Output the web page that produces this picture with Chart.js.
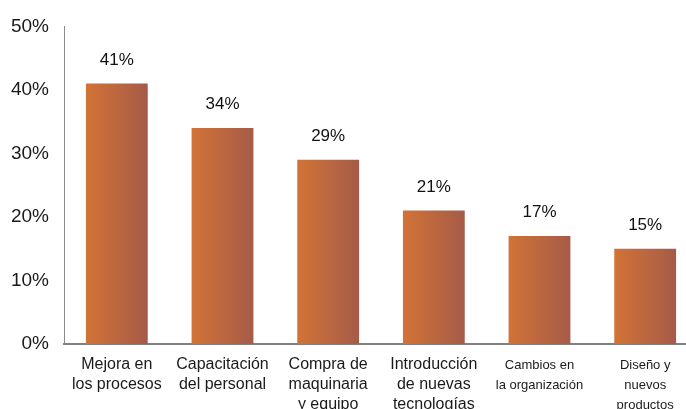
<!DOCTYPE html>
<html>
<head>
<meta charset="utf-8">
<script src="https://cdn.jsdelivr.net/npm/chart.js@4"></script>
<style>
  html, body { margin: 0; padding: 0; background: #fff; overflow: hidden; }
  #wrap { width: 702px; height: 409px; }
</style>
</head>
<body>
<div id="wrap"><canvas id="chart" width="702" height="409"></canvas></div>
<script>
// Chart data
const categories = [
  ["Mejora en", "los procesos"],
  ["Capacitación", "del personal"],
  ["Compra de", "maquinaria", "y equipo"],
  ["Introducción", "de nuevas", "tecnologías"],
  ["Cambios en", "la organización"],
  ["Diseño y", "nuevos", "productos"]
];
const values = [41, 34, 29, 21, 17, 15];
const yTicks = [0, 10, 20, 30, 40, 50];

const BAR_PCT = 0.585;

const labelFont = { family: '"Liberation Sans", Arial, sans-serif', size: 16, lineHeight: 1.25 };
const smallFont = { family: '"Liberation Sans", Arial, sans-serif', size: 13, lineHeight: 1.54 };

function barGradient(ctx) {
  const chart = ctx.chart;
  const xs = chart.scales.x;
  if (!chart.chartArea || !xs) return '#c06a3c';
  const cx = xs.getPixelForValue(ctx.dataIndex);
  const half = xs.width / categories.length * BAR_PCT / 2;
  const g = chart.ctx.createLinearGradient(cx - half, 0, cx + half, 0);
  g.addColorStop(0, '#d27337');
  g.addColorStop(1, '#a65b48');
  return g;
}

// value labels above the bars
const valueLabels = {
  id: 'valueLabels',
  afterDatasetsDraw(chart) {
    const ctx = chart.ctx;
    const meta = chart.getDatasetMeta(0);
    ctx.save();
    ctx.font = '17px "Liberation Sans", Arial, sans-serif';
    ctx.fillStyle = '#111';
    ctx.textAlign = 'center';
    ctx.textBaseline = 'bottom';
    meta.data.forEach((bar, i) => {
      ctx.fillText(values[i] + '%', bar.x, bar.y - 15);
    });
    ctx.restore();
  }
};

new Chart(document.getElementById('chart'), {
  type: 'bar',
  data: {
    labels: categories,
    datasets: [{
      data: values,
      backgroundColor: barGradient,
      barPercentage: BAR_PCT,
      categoryPercentage: 1
    }]
  },
  options: {
    responsive: false,
    animation: false,
    layout: { padding: { top: 26, right: 4, left: 0, bottom: 0 } },
    plugins: {
      legend: { display: false },
      tooltip: { enabled: false }
    },
    scales: {
      y: {
        min: 0,
        max: 50,
        afterBuildTicks(axis) {
          axis.ticks = yTicks.map(v => ({ value: v }));
        },
        afterFit(axis) { axis.width = 64; },
        grid: { display: false, drawTicks: false },
        border: { color: '#8a8a8a', width: 1 },
        ticks: {
          padding: 15,
          color: '#1a1a1a',
          font: { family: '"Liberation Sans", Arial, sans-serif', size: 19 },
          callback: v => v + '%'
        }
      },
      x: {
        afterFit(axis) { axis.height = 65; },
        grid: { display: false, drawTicks: false },
        border: { color: '#808080', width: 2 },
        ticks: {
          padding: 11,
          maxRotation: 0,
          autoSkip: false,
          color: '#1a1a1a',
          font: c => (c.index >= 4 ? smallFont : labelFont)
        }
      }
    }
  },
  plugins: [valueLabels]
});
</script>
</body>
</html>
